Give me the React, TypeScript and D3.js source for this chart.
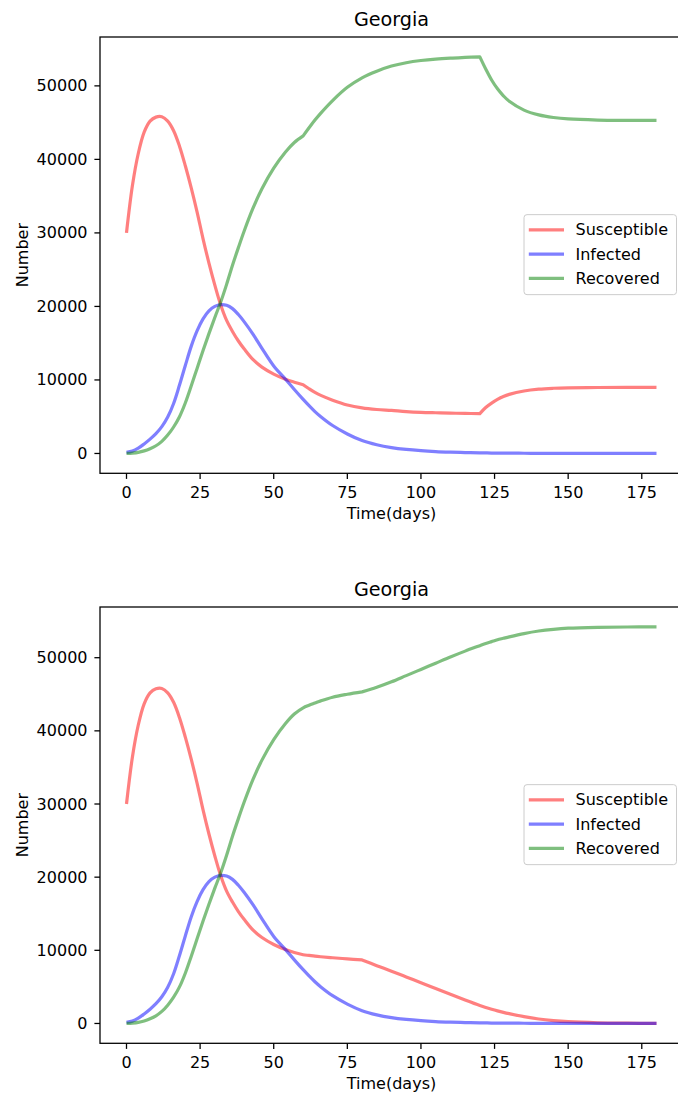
import React from 'react';
import * as d3 from 'd3';

const days = [0, 2, 4, 6, 8, 10, 12, 14, 16, 18, 20, 22, 24, 26, 28, 30, 32, 34, 36, 38, 40,
  43, 46, 50, 54, 57, 60, 62, 64, 66, 70, 75, 80, 85, 90, 95, 100, 105, 110, 115, 120,
  122, 124, 126, 128, 130, 135, 140, 145, 150, 160, 170, 180];

const susceptibleTop = [30000, 36400, 40800, 43700, 45200, 45750, 45800, 45200, 43900, 41800, 39100,
  36100, 32800, 29200, 25900, 22900, 20200, 18100, 16600, 15300, 14200,
  12750, 11750, 10800, 10100, 9700, 9350, 8800, 8300, 7900, 7250, 6600, 6200, 5980, 5850, 5700, 5600, 5540, 5490, 5450, 5420,
  6250, 6850, 7350, 7750, 8040, 8500, 8750, 8870, 8930, 8975, 8990, 8990];

const infected = [150, 320, 720, 1300, 1950, 2700, 3650, 4950, 6800, 9300, 12000,
  14600, 16700, 18300, 19400, 20000, 20250, 20150, 19700, 18900, 17900,
  16200, 14300, 11900, 10100, 8700, 7350, 6500, 5700, 5000, 3800, 2650, 1750, 1180, 800, 550, 380, 260, 180, 120, 80,
  70, 60, 50, 45, 40, 30, 20, 15, 10, 5, 2, 1];

const recoveredTop = [0, 50, 150, 350, 650, 1050, 1650, 2500, 3600, 5000, 6900,
  9200, 11600, 14000, 16300, 18500, 20600, 23000, 25600, 28000, 30300,
  33400, 36000, 38800, 41000, 42300, 43200, 44300, 45350, 46300, 48000, 49800, 51100, 52000, 52700, 53150, 53450, 53650, 53780, 53870, 53950,
  52300, 50800, 49600, 48650, 47900, 46700, 46050, 45700, 45500, 45350, 45310, 45300];

const susceptibleBottom = [30000, 36400, 40800, 43700, 45200, 45750, 45800, 45200, 43900, 41800, 39100,
  36100, 32800, 29200, 25900, 22900, 20200, 18100, 16600, 15300, 14200,
  12750, 11750, 10800, 10100, 9700, 9400, 9300, 9200, 9120, 8980, 8830, 8690, 7900, 7150, 6350, 5580, 4780, 3980, 3200, 2450,
  2180, 1940, 1720, 1520, 1340, 930, 610, 390, 240, 90, 35, 12];

const recoveredBottom = [0, 50, 150, 350, 650, 1050, 1650, 2500, 3600, 5000, 6900,
  9200, 11600, 14000, 16300, 18500, 20600, 23000, 25600, 28000, 30300,
  33400, 36000, 38800, 41000, 42300, 43150, 43500, 43800, 44100, 44600, 45000, 45330, 45950, 46700, 47550, 48400, 49250, 50100, 50900, 51650,
  51950, 52200, 52450, 52650, 52850, 53300, 53650, 53880, 54030, 54150, 54200, 54220];

// days where the S and R curves have a corner (intervention start/end)
const kinksTop = [60, 120];
const kinksBottom = [80];

const seriesNames = ['Susceptible', 'Infected', 'Recovered'];
const seriesColors = ['#ff0000', '#0000ff', '#008000'];
const xTicks = [0, 25, 50, 75, 100, 125, 150, 175];
const yTicks = [0, 10000, 20000, 30000, 40000, 50000];
const title = 'Georgia';
const xLabel = 'Time(days)';
const yLabel = 'Number';

const FONT = '"DejaVu Sans", sans-serif';

type PanelProps = { top: number; s: number[]; i: number[]; r: number[]; kinks: number[] };

function Panel({ top, s, i, r, kinks }: PanelProps) {
  const left = 100;
  const right = 683;
  const height = 436.3;
  const bottom = top + height;
  const cy = (top + bottom) / 2;

  const [d0, d1] = d3.extent(days) as [number, number];
  const padX = (d1 - d0) * 0.05;
  const x = d3.scaleLinear().domain([d0 - padX, d1 + padX]).range([left, right]);

  const all = [...s, ...i, ...r];
  const lo = d3.min(all) as number;
  const hi = d3.max(all) as number;
  const padY = (hi - lo) * 0.05;
  const y = d3.scaleLinear().domain([lo - padY, hi + padY]).range([bottom, top]);

  const line = d3.line<[number, number]>()
    .x(p => x(p[0]))
    .y(p => y(p[1]))
    .curve(d3.curveCatmullRom.alpha(0.5));

  // smooth between corners, sharp at the corners
  const pathFor = (vals: number[], corners: number[]) => {
    const pts = days.map((d, k) => [d, vals[k]] as [number, number]);
    const cuts = corners.map(c => days.indexOf(c)).filter(k => k > 0);
    const bounds = [0, ...cuts, pts.length - 1];
    let d = '';
    for (let b = 0; b < bounds.length - 1; b++) {
      const seg = line(pts.slice(bounds[b], bounds[b + 1] + 1)) || '';
      d += b === 0 ? seg : seg.replace(/^M[^CLZ]*/, '');
    }
    return d;
  };

  const data = [pathFor(s, kinks), pathFor(i, []), pathFor(r, kinks)];

  return (
    <g>
      {data.map((d, k) => (
        <path key={k} d={d} fill="none" stroke={seriesColors[k]}
          strokeOpacity={0.5} strokeWidth={3.2} strokeLinejoin="round" />
      ))}

      {/* spines */}
      <rect x={left} y={top} width={right - left} height={height}
        fill="none" stroke="#000" strokeWidth={1.28} />

      {yTicks.map(t => (
        <g key={t}>
          <line x1={left - 5.6} x2={left} y1={y(t)} y2={y(t)} stroke="#000" strokeWidth={1.28} />
          <text x={87.5} y={y(t)} textAnchor="end" dominantBaseline="central"
            fontFamily={FONT} fontSize={16} fill="#000">{t}</text>
        </g>
      ))}
      {xTicks.map(t => (
        <g key={t}>
          <line x1={x(t)} x2={x(t)} y1={bottom} y2={bottom + 5.6} stroke="#000" strokeWidth={1.28} />
          <text x={x(t)} y={bottom + 24.3} textAnchor="middle"
            fontFamily={FONT} fontSize={16} fill="#000">{t}</text>
        </g>
      ))}

      <text x={(left + right) / 2} y={bottom + 45.5} textAnchor="middle"
        fontFamily={FONT} fontSize={16} fill="#000">{xLabel}</text>
      <text transform={`translate(27.5,${cy}) rotate(-90)`} textAnchor="middle"
        fontFamily={FONT} fontSize={16} fill="#000">{yLabel}</text>
      <text x={(left + right) / 2} y={top - 11.5} textAnchor="middle"
        fontFamily={FONT} fontSize={19.2} fill="#000">{title}</text>

      {/* legend, center right */}
      <g>
        <rect x={524} y={cy - 40.5} width={152.5} height={80} rx={3}
          fill="#fff" fillOpacity={0.8} stroke="#cccccc" strokeWidth={1} />
        {seriesNames.map((name, k) => {
          const ry = cy - 1 + (k - 1) * 24.3;
          return (
            <g key={name}>
              <line x1={530.4} x2={562.4} y1={ry} y2={ry} stroke={seriesColors[k]}
                strokeOpacity={0.5} strokeWidth={3.2} strokeLinecap="square" />
              <text x={575.5} y={ry} dominantBaseline="central"
                fontFamily={FONT} fontSize={16} fill="#000">{name}</text>
            </g>
          );
        })}
      </g>
    </g>
  );
}

export default function App() {
  return (
    <svg width={678} height={1097}
      style={{ position: 'absolute', left: 0, top: 0, display: 'block', background: '#fff' }}>
      <Panel top={37} s={susceptibleTop} i={infected} r={recoveredTop} kinks={kinksTop} />
      <Panel top={607} s={susceptibleBottom} i={infected} r={recoveredBottom} kinks={kinksBottom} />
    </svg>
  );
}
